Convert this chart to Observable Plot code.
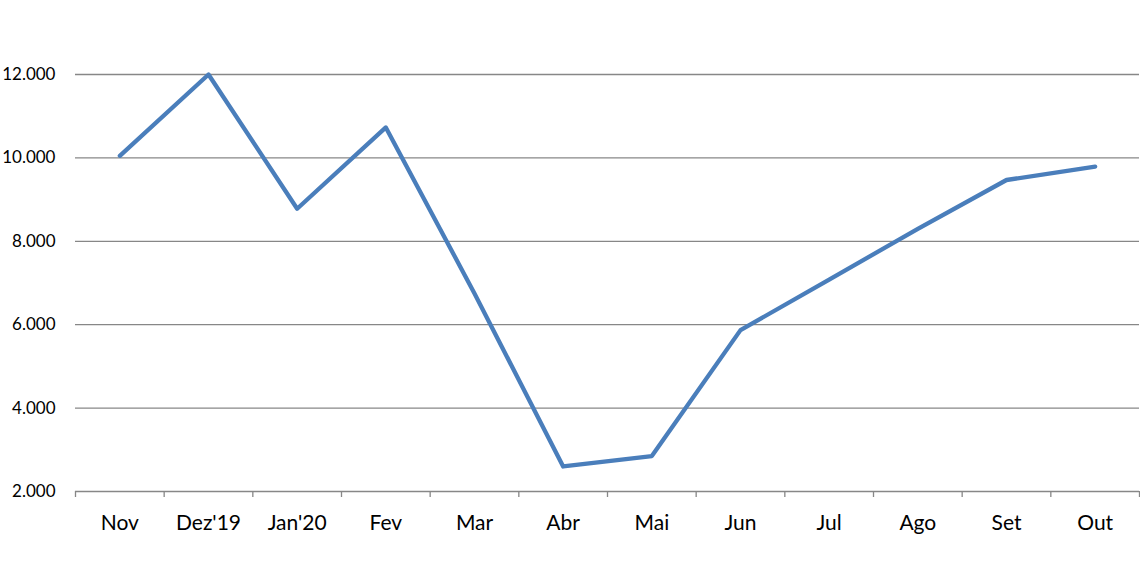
<!DOCTYPE html>
<html><head><meta charset="utf-8">
<script src="https://cdn.jsdelivr.net/npm/d3@7"></script>
<script src="https://cdn.jsdelivr.net/npm/@observablehq/plot@0.6"></script>
<style>body{margin:0;background:#fff} svg{display:block}</style>
</head><body><div id="chart"></div>
<script>
const months = ["Nov","Dez'19","Jan'20","Fev","Mar","Abr","Mai","Jun","Jul","Ago","Set","Out"];
const values = [10050,12000,8780,10730,6750,2600,2850,5870,7080,8300,9470,9790];
const yTicks = [2000,4000,6000,8000,10000,12000];

const data = months.map((m,i)=>({i, month:m, value:values[i]}));
const bounds = d3.range(months.length+1).map(k=>k-0.5);
const fmt = d => d3.format(",")(d).replace(/,/g,".");
const grey = "#878787";

const chart = Plot.plot({
  width:1140, height:570, marginLeft:75, marginRight:1, marginTop:74, marginBottom:79,
  style:{fontFamily:"Lato, 'Open Sans', sans-serif", background:"#fff", color:"#000"},
  x:{type:"linear", domain:[-0.5, months.length-0.5], label:null},
  y:{domain:[2000,12000], label:null},
  marks:[
    Plot.gridY(yTicks.slice(1), {stroke:grey, strokeOpacity:1, strokeWidth:1.3}),
    Plot.ruleY([2000], {stroke:grey, strokeWidth:1.3}),
    Plot.axisX(bounds, {tickSize:6, stroke:grey, strokeWidth:1.3, tickFormat:()=>"", label:null}),
    Plot.axisX(d3.range(months.length), {tickSize:0, tickPadding:24, tickFormat:i=>months[i], fontSize:21, label:null}),
    Plot.axisY(yTicks, {tickSize:0, tickPadding:20, tickFormat:fmt, fontSize:17, label:null}),
    Plot.line(data, {x:"i", y:"value", stroke:"#4A7EBB", strokeWidth:4.3, strokeLinejoin:"round", strokeLinecap:"round"})
  ]
});
document.getElementById("chart").appendChild(chart);
</script>
</body></html>
